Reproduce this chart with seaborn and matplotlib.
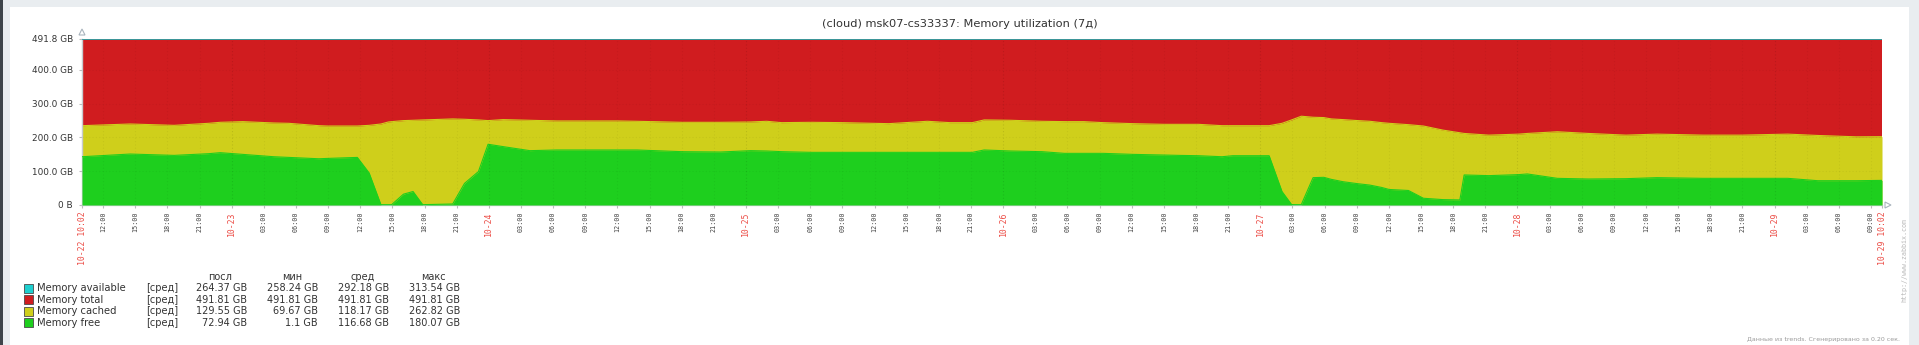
import numpy as np
import pandas as pd
import matplotlib
matplotlib.use("Agg")
import matplotlib.pyplot as plt
from matplotlib.patches import Rectangle, Polygon
import seaborn as sns

# ---------------- data ----------------
title = "(cloud) msk07-cs33337: Memory utilization (7д)"

# hours since 10-22 10:02
hours = [0.0, 4.5, 8.6, 11.8, 12.9, 15.0, 17.9, 19.3, 22.1, 22.9, 25.7, 26.8, 27.9, 28.6,
         28.9, 30.0, 30.9, 31.8, 34.6, 35.7, 37.0, 37.9, 39.3, 41.8, 44.3, 46.4, 50.0,
         51.8, 56.0, 59.6, 62.4, 63.9, 65.3, 68.1, 71.0, 75.3, 78.9, 81.0, 83.1, 84.2,
         86.7, 89.6, 91.7, 93.5, 95.3, 98.1, 101.0, 102.4, 104.2, 106.4, 107.4, 110.8,
         112.0, 112.9, 113.8, 114.9, 115.9, 116.6, 117.7, 119.1, 120.2, 121.3, 122.0,
         123.8, 125.2, 127.0, 128.6, 129.0, 131.3, 134.1, 134.9, 137.7, 140.6, 144.1,
         147.0, 151.3, 154.9, 159.2, 162.0, 165.6, 168.0]
free_gb = [143, 151, 147, 152, 155, 150, 143, 141, 137, 138, 141, 95, 1, 1,
           1, 32, 40, 1, 3, 64, 99, 180, 173, 161, 163, 163, 163,
           163, 158, 157, 161, 160, 158, 156, 156, 156, 156, 156, 156, 163,
           160, 158, 153, 153, 153, 150, 148, 147, 146, 143, 146, 146,
           40, 1.1, 1, 81, 82, 76, 69, 63, 59, 52, 46,
           43, 20, 16, 15, 89, 87, 90, 92, 79, 77, 78,
           81, 79, 79, 79, 72, 72, 72.94]
cached_gb = [92, 89, 89, 90, 90, 97, 100, 101, 98, 96, 93, 141, 239, 245,
             246, 218, 211, 251, 252, 190, 153, 70, 80, 90, 86, 86, 86,
             85, 87, 88, 85, 88, 86, 89, 88, 85, 92, 88, 88, 89,
             91, 90, 94, 94, 91, 91, 91, 92, 93, 92, 89, 89,
             202, 251, 262, 179, 177, 179, 184, 187, 189, 192, 196,
             195, 214, 206, 199, 123, 120, 120, 120, 138, 135, 129,
             129, 128, 128, 131, 134, 130, 129.55]
total_hours = [0.0, 168.0]
total_gb = [491.81, 491.81]

y_ticks = [0, 100, 200, 300, 400, 491.81]
y_tick_labels = ["0 B", "100.0 GB", "200.0 GB", "300.0 GB", "400.0 GB", "491.8 GB"]

start_label = "10-22 10:02"
end_label = "10-29 10:02"
first_tick_hour = 1 + 58 / 60  # 10-22 12:00
tick_labels = ["12:00", "15:00", "18:00", "21:00",
               "10-23", "03:00", "06:00", "09:00", "12:00", "15:00", "18:00", "21:00",
               "10-24", "03:00", "06:00", "09:00", "12:00", "15:00", "18:00", "21:00",
               "10-25", "03:00", "06:00", "09:00", "12:00", "15:00", "18:00", "21:00",
               "10-26", "03:00", "06:00", "09:00", "12:00", "15:00", "18:00", "21:00",
               "10-27", "03:00", "06:00", "09:00", "12:00", "15:00", "18:00", "21:00",
               "10-28", "03:00", "06:00", "09:00", "12:00", "15:00", "18:00", "21:00",
               "10-29", "03:00", "06:00", "09:00"]

legend_names = ["Memory available", "Memory total", "Memory cached", "Memory free"]
legend_func = "[сред]"
stat_headers = ["посл", "мин", "сред", "макс"]
stat_last = ["264.37 GB", "491.81 GB", "129.55 GB", "72.94 GB"]
stat_min = ["258.24 GB", "491.81 GB", "69.67 GB", "1.1 GB"]
stat_avg = ["292.18 GB", "491.81 GB", "118.17 GB", "116.68 GB"]
stat_max = ["313.54 GB", "491.81 GB", "262.82 GB", "180.07 GB"]
footer = "Данные из trends. Сгенерировано за 0.20 сек."
watermark = "http://www.zabbix.com"

# ---------------- style ----------------
C_AVAIL = "#1ECFCF"
C_TOTAL = "#D01C1F"
C_CACHED = "#CFCF1B"
C_FREE = "#1ECF1E"
legend_colors = [C_AVAIL, C_TOTAL, C_CACHED, C_FREE]

sns.set_theme(style="white")
plt.rcParams["font.family"] = ["DejaVu Sans"]

W, H = 1919, 345
fig = plt.figure(figsize=(W / 100, H / 100), dpi=100)
fig.patch.set_facecolor("#e9edf0")

# overlay axes in pixel coordinates
ov = fig.add_axes([0, 0, 1, 1])
ov.set_xlim(0, W)
ov.set_ylim(H, 0)
ov.axis("off")
ov.set_zorder(0)
ov.add_patch(Rectangle((10, 7), 1899, 340, facecolor="white", edgecolor="none"))
ov.add_patch(Rectangle((0, 0), 3, H, facecolor="#3e444a", edgecolor="none"))

# main plot axes
L, R, T, B = 82, 1882, 39, 205
ax = fig.add_axes([L / W, (H - B) / H, (R - L) / W, (B - T) / H])
ax.set_zorder(1)
ax.patch.set_alpha(0)

hours_a = np.array(hours)
free_a = np.array(free_gb, dtype=float)
top_a = free_a + np.array(cached_gb, dtype=float)

ax.fill_between(total_hours, 0, total_gb, color=C_TOTAL, lw=0, zorder=1)
ax.fill_between(hours_a, 0, top_a, color=C_CACHED, lw=0, zorder=2)
ax.fill_between(hours_a, 0, free_a, color=C_FREE, lw=0, zorder=3)
sns.lineplot(x=hours_a, y=top_a, ax=ax, color=C_CACHED, lw=0.8, legend=False, zorder=2.5, sort=False)
sns.lineplot(x=hours_a, y=free_a, ax=ax, color=C_FREE, lw=0.8, legend=False, zorder=3.5, sort=False)
ax.axhline(total_gb[0], color="#2ea3a6", lw=1.3, zorder=6)

ax.set_xlim(0, 168)
ax.set_ylim(0, 491.81)
ax.set_xlabel("")
ax.set_ylabel("")

# grid
tick_pos = [first_tick_hour + 3 * i for i in range(len(tick_labels))]
for p, lab in zip(tick_pos, tick_labels):
    a = 0.10 if "-" in lab else 0.05
    ax.axvline(p, color="black", alpha=a, lw=0.8, ls=(0, (1, 2)), zorder=5)
for yv in y_ticks[1:-1]:
    ax.axhline(yv, color="black", alpha=0.05, lw=0.8, ls=(0, (1, 2)), zorder=5)

for s in ["top", "right"]:
    ax.spines[s].set_visible(False)
for s in ["left", "bottom"]:
    ax.spines[s].set_color("#c8ccd0")
    ax.spines[s].set_linewidth(1.0)

ax.set_yticks(y_ticks)
ax.set_yticklabels(y_tick_labels)
ax.tick_params(axis="y", length=2.5, width=0.8, color="#bbbbbb", pad=4,
               labelsize=6.4, labelcolor="#333333", left=True)

all_pos = [0.0] + tick_pos + [168.0]
all_lab = [start_label] + tick_labels + [end_label]
ax.set_xticks(all_pos)
ax.set_xticklabels(all_lab, rotation=90)
ax.tick_params(axis="x", length=2.5, width=0.8, color="#bbbbbb", pad=2, bottom=True)
for t in ax.get_xticklabels():
    txt = t.get_text()
    t.set_family("DejaVu Sans Mono")
    if "-" in txt:
        t.set_color("#ec4c45")
        t.set_fontsize(5.9)
    else:
        t.set_color("#444444")
        t.set_fontsize(4.9)

# axis arrows
ov.add_patch(Polygon([[79, 35], [85, 35], [82, 29]], closed=True, fill=False,
                     edgecolor="#a9b4bd", lw=0.8))
ov.add_patch(Polygon([[1885, 202], [1885, 208], [1891, 205]], closed=True, fill=False,
                     edgecolor="#a9b4bd", lw=0.8))

# title
ov.text(960, 24, title, ha="center", va="center", fontsize=8.2, color="#333333")

# legend
row_y = [288.3, 299.6, 311.0, 322.6]
head_x = [220, 292, 363, 433]
col_right = [247, 318, 389, 460]
for hx, ht in zip(head_x, stat_headers):
    ov.text(hx, 277, ht, ha="center", va="center", fontsize=7.0, color="#333333")
for i, name in enumerate(legend_names):
    y = row_y[i]
    ov.add_patch(Rectangle((23.5, y - 4.5), 9, 9, facecolor=legend_colors[i],
                           edgecolor="#4a4a4a", lw=0.6))
    ov.text(37, y, name, ha="left", va="center", fontsize=7.2, color="#333333")
    ov.text(146, y, legend_func, ha="left", va="center", fontsize=7.0, color="#333333")
    for cx, vals in zip(col_right, [stat_last, stat_min, stat_avg, stat_max]):
        ov.text(cx, y, vals[i], ha="right", va="center", fontsize=7.0, color="#333333")

# watermark and footer
ov.text(1904, 260, watermark, ha="center", va="center", rotation=90, fontsize=4.8,
        color="#b8b8b8", family="DejaVu Sans Mono")
ov.text(1900, 339, footer, ha="right", va="center", fontsize=4.5, color="#9a9a9a")

fig.savefig("out.png", dpi=100, facecolor=fig.get_facecolor())
